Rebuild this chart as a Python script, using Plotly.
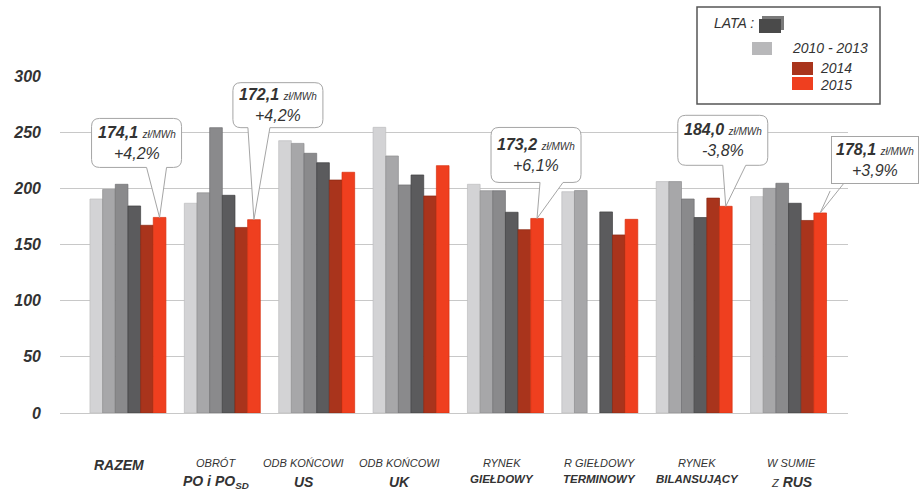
import plotly.graph_objects as go

# ---------------- data ----------------
categories = ["RAZEM", "OBRÓT PO i PO SD", "ODB KOŃCOWI US", "ODB KOŃCOWI UK",
              "RYNEK GIEŁDOWY", "R GIEŁDOWY TERMINOWY", "RYNEK BILANSUJĄCY", "W SUMIE Z RUS"]
years = ["2010", "2011", "2012", "2013", "2014", "2015"]
v2010 = [190.5, 186.7, 242.4, 254.3, 203.6, 197.0, 206.0, 192.6]
v2011 = [199.0, 196.0, 240.0, 228.8, 197.9, 198.0, 206.0, 200.0]
v2012 = [203.6, 254.0, 231.2, 203.0, 197.9, None, 190.5, 204.5]
v2013 = [184.3, 193.8, 222.8, 211.9, 178.7, 179.0, 174.0, 186.7]
v2014 = [167.1, 165.2, 207.4, 193.2, 163.2, 158.5, 191.3, 171.4]
v2015 = [174.1, 172.1, 214.3, 220.2, 173.2, 172.4, 184.0, 178.1]
series = [v2010, v2011, v2012, v2013, v2014, v2015]

y_ticks = [0, 50, 100, 150, 200, 250, 300]

label_line1 = ["RAZEM", "OBRÓT", "ODB KOŃCOWI", "ODB KOŃCOWI", "RYNEK", "R GIEŁDOWY", "RYNEK", "W SUMIE"]
label_line2 = ["", "PO i PO<sub>SD</sub>", "US", "UK", "GIEŁDOWY", "TERMINOWY", "BILANSUJĄCY",
               "<span style='font-size:11px'>Z</span> <b>RUS</b>"]

callout_idx = [0, 1, 4, 6, 7]
callout_value = ["174,1", "172,1", "173,2", "184,0", "178,1"]
callout_change = ["+4,2%", "+4,2%", "+6,1%", "-3,8%", "+3,9%"]

legend_labels = ["LATA :", "2010 - 2013", "2014", "2015"]

# ---------------- styles ----------------
colors = ["#d3d3d5", "#a7a7a9", "#8a8a8c", "#5b5b5d", "#a9341c", "#ef3f1f"]
edge = ["#bdbdbf", "#8f8f91", "#707072", "#3f3f41", "#8a2812", "#d83010"]
FONT = "Liberation Sans, Arial, sans-serif"
TXT = "#333333"
BOXLINE = "#a5a5a5"

fig = go.Figure()
for yr, vals, c, e in zip(years, series, colors, edge):
    fig.add_trace(go.Bar(x=categories, y=vals, name=yr, marker=dict(color=c, line=dict(color=e, width=0.7)),
                         showlegend=False))

L, R, T, B = 60, 74, 76, 79
W, H = 922, 492
pw, ph = W - L - R, H - T - B


def px(x):
    return (x - L) / pw


def py(y):
    return (H - B - y) / ph


fig.update_layout(
    width=W, height=H,
    margin=dict(l=L, r=R, t=T, b=B),
    paper_bgcolor="white", plot_bgcolor="white",
    barmode="group", bargap=0.195, bargroupgap=0,
    font=dict(family=FONT, color=TXT),
    xaxis=dict(type="category", categoryarray=categories, range=[-0.72, 7.63],
               showticklabels=False, showgrid=False, zeroline=False, showline=False, ticks=""),
    yaxis=dict(range=[0, 300], tickvals=y_ticks, ticktext=["<b><i>%d</i></b>" % v for v in y_ticks],
               showgrid=True, gridcolor="#c8c8c8", gridwidth=1,
               zeroline=True, zerolinecolor="#c8c8c8", zerolinewidth=1, showline=False,
               ticks="", ticklabelstandoff=18,
               tickfont=dict(family=FONT, size=16, color=TXT, style="italic", weight="bold")),
)

annotations = []
shapes = []
# category labels
shifts = [-9, -6, -13, -12, -3, 0, 3, 3]
for i, cat in enumerate(categories):
    if label_line2[i] == "":
        annotations.append(dict(x=cat, y=0, xref="x", yref="y", text="<b>" + label_line1[i] + "</b>",
                                showarrow=False, xshift=shifts[i], yshift=-52, yanchor="middle",
                                font=dict(family=FONT, size=14, color=TXT, style="italic")))
    else:
        annotations.append(dict(x=cat, y=0, xref="x", yref="y", text=label_line1[i],
                                showarrow=False, xshift=shifts[i], yshift=-50, yanchor="middle",
                                font=dict(family=FONT, size=11, color=TXT, style="italic")))
        small2 = label_line2[i] in ("GIEŁDOWY", "TERMINOWY", "BILANSUJĄCY")
        t2 = label_line2[i] if "RUS" in label_line2[i] else "<b>" + label_line2[i] + "</b>"
        annotations.append(dict(x=cat, y=0, xref="x", yref="y", text=t2,
                                showarrow=False, xshift=shifts[i], yshift=-66 if small2 else -69,
                                yanchor="middle",
                                font=dict(family=FONT, size=11.5 if small2 else 14, color=TXT, style="italic")))

# callouts: box (left, right, top, bottom) and tail base x, in screen pixels relative to the 2015 bar top
boxes = [(-68, 22, -99, -50), (-21, 69, -137, -92), (-46, 44, -91, -36), (-48, 42, -91, -41), (10, 100, -75, -30)]
tail_x = [(-13, 7), (-6, 16), (3, 26), (-3, 20), (0, 0)]
BX = 31.6  # pixel offset of 2015 bar centre from group centre
RAD = 8


def bubble(l, r, t, b, t1, t2, ox):
    # convert screen (y down) to shape pixel coords (y up)
    T_, B_ = -t, -b
    l, r, t1, t2 = l + ox, r + ox, t1 + ox, t2 + ox
    p = [f"M{l + RAD},{T_}", f"L{r - RAD},{T_}", f"Q{r},{T_} {r},{T_ - RAD}", f"L{r},{B_ + RAD}",
         f"Q{r},{B_} {r - RAD},{B_}", f"L{t2},{B_}", f"L{ox},0", f"L{t1},{B_}", f"L{l + RAD},{B_}",
         f"Q{l},{B_} {l},{B_ + RAD}", f"L{l},{T_ - RAD}", f"Q{l},{T_} {l + RAD},{T_}", "Z"]
    return " ".join(p)


for k, i in enumerate(callout_idx):
    y = v2015[i]
    l, r, t, b = boxes[k]
    cx, cy = (l + r) / 2, (t + b) / 2
    if k < 4:
        shapes.append(dict(type="path", xref="x", yref="y", xsizemode="pixel", ysizemode="pixel",
                           xanchor=i, yanchor=y, path=bubble(l, r, t, b, tail_x[k][0], tail_x[k][1], BX),
                           line=dict(color=BOXLINE, width=1), fillcolor="white", layer="above"))
        annotations.append(dict(
            x=categories[i], y=y, xref="x", yref="y", xshift=BX,
            text="<b>" + callout_value[k] + "</b> <span style='font-size:10px'>zł/MWh</span><br>" + callout_change[k],
            showarrow=True, arrowcolor="rgba(0,0,0,0)", arrowwidth=0.1, ax=cx, ay=cy,
            font=dict(family=FONT, size=16, color=TXT, style="italic")))
    else:
        # last callout sits at the page edge: plain bordered box with a two-line tail
        for (sx, sy) in [(l, b + 8), (l + 14, b)]:
            shapes.append(dict(type="line", xref="x", yref="y", xsizemode="pixel", ysizemode="pixel",
                               xanchor=i, yanchor=y, x0=BX, y0=0, x1=BX + sx, y1=-sy,
                               line=dict(color=BOXLINE, width=1), layer="above"))
        annotations.append(dict(
            x=categories[i], y=y, xref="x", yref="y", xshift=BX,
            text="<b>" + callout_value[k] + "</b> <span style='font-size:10px'>zł/MWh</span><br>" + callout_change[k],
            showarrow=True, arrowcolor="rgba(0,0,0,0)", arrowwidth=0.1, ax=cx, ay=cy,
            bgcolor="white", bordercolor=BOXLINE, borderwidth=1, borderpad=4,
            font=dict(family=FONT, size=16, color=TXT, style="italic")))

# legend box
shapes += [
    dict(type="rect", xref="paper", yref="paper", x0=px(697), x1=px(880), y0=py(104), y1=py(7),
         line=dict(color="#555555", width=1.5), fillcolor="white", layer="above"),
    dict(type="rect", xref="paper", yref="paper", x0=px(762), x1=px(784), y0=py(30), y1=py(16),
         line=dict(width=0), fillcolor="#7a7a7a", layer="above"),
    dict(type="rect", xref="paper", yref="paper", x0=px(759), x1=px(781), y0=py(33), y1=py(19),
         line=dict(width=0), fillcolor="#4a4a4a", layer="above"),
    dict(type="rect", xref="paper", yref="paper", x0=px(752), x1=px(772), y0=py(55), y1=py(42),
         line=dict(width=0), fillcolor="#b8b8ba", layer="above"),
    dict(type="rect", xref="paper", yref="paper", x0=px(792), x1=px(813), y0=py(75), y1=py(62),
         line=dict(width=0), fillcolor=colors[4], layer="above"),
    dict(type="rect", xref="paper", yref="paper", x0=px(792), x1=px(813), y0=py(90), y1=py(77),
         line=dict(width=0), fillcolor=colors[5], layer="above"),
]
leg_pos = [(712, 23), (790, 48), (818, 68), (818, 85)]
for lab, (lx, ly) in zip(legend_labels, leg_pos):
    annotations.append(dict(xref="paper", yref="paper", x=px(lx), y=py(ly), text=lab, showarrow=False,
                            xanchor="left", yanchor="middle",
                            font=dict(family=FONT, size=14, color=TXT, style="italic")))

fig.update_layout(annotations=annotations, shapes=shapes)
fig.write_html("out.html")
